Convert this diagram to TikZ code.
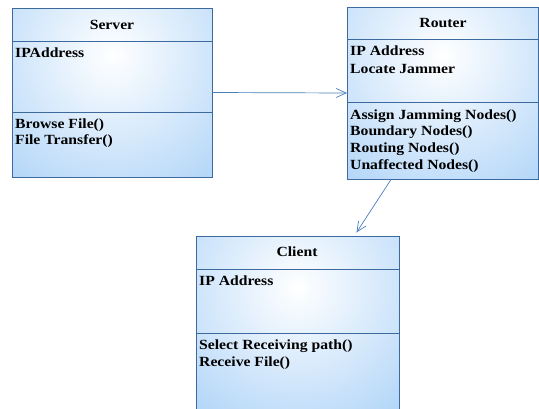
\documentclass[tikz,border=0pt]{standalone}
\usepackage{fontspec}
\setmainfont{Liberation Serif}[BoldFeatures={FakeStretch=1.12}]
\usetikzlibrary{arrows.meta,calc}
\definecolor{boxfill}{HTML}{A6CFF7}
\definecolor{boxline}{HTML}{3C6A9E}
\definecolor{linkline}{HTML}{4A7EBB}
\begin{document}
\begin{tikzpicture}[x=1pt,y=-1pt,
  umlbox/.style={draw=boxline, line width=0.9pt, rectangle, inner sep=0pt,
    path picture={\shade[inner color=white, outer color=boxfill]
      ($(path picture bounding box.north)!0.28!(path picture bounding box.south)$) circle (185pt);}},
  sepline/.style={draw=boxline, line width=0.9pt},
  title/.style={font=\fontsize{14}{16}\selectfont\bfseries, inner sep=0pt},
  item/.style={font=\fontsize{14}{16}\selectfont\bfseries, inner sep=0pt, anchor=west},
  link/.style={draw=linkline, line width=0.7pt, -{Straight Barb[length=10pt,width=9pt,line width=0.7pt]}}
]
\useasboundingbox (0,0) rectangle (539,408);
\clip (0,0) rectangle (539,408);

% Server
\node[umlbox, minimum width=200pt, minimum height=169pt] (server) at (112,92.5) {};
\draw[sepline] ($(server.north west)+(0,34)$) -- ($(server.north east)+(0,34)$);
\draw[sepline] ($(server.north west)+(0,105)$) -- ($(server.north east)+(0,105)$);
\node[title] (stitle) at (112,25) {Server};
\node[item] (s1) at (15,53) {IPAddress};
\node[item] (s2) at (15,125) {Browse File()};
\node[item] (s3) at (15,141) {File Transfer()};

% Router
\node[umlbox, minimum width=191pt, minimum height=172pt] (router) at (443,93) {};
\draw[sepline] ($(router.north west)+(0,33)$) -- ($(router.north east)+(0,33)$);
\draw[sepline] ($(router.north west)+(0,96)$) -- ($(router.north east)+(0,96)$);
\node[title] (rtitle) at (443,23) {Router};
\node[item] (r1) at (350,51) {IP Address};
\node[item] (r2) at (350,69) {Locate Jammer};
\node[item] (r3) at (350,116) {Assign Jamming Nodes()};
\node[item] (r4) at (350,132) {Boundary Nodes()};
\node[item] (r5) at (350,149) {Routing Nodes()};
\node[item] (r6) at (350,166) {Unaffected Nodes()};

% Client
\node[umlbox, minimum width=203pt, minimum height=184pt] (client) at (297.5,328) {};
\draw[sepline] ($(client.north west)+(0,34)$) -- ($(client.north east)+(0,34)$);
\draw[sepline] ($(client.north west)+(0,98)$) -- ($(client.north east)+(0,98)$);
\node[title] (ctitle) at (297,252) {Client};
\node[item] (c1) at (199,281) {IP Address};
\node[item] (c2) at (199,346) {Select Receiving path()};
\node[item] (c3) at (199,363) {Receive File()};

% Connectors
\coordinate (rfrom) at ($(router.south west)+(44,0)$);
\coordinate (cto) at ($(client.north east)+(-43,-3)$);
\draw[link] (server.east) -- (router.west);
\draw[link] (rfrom) -- (cto);
\end{tikzpicture}
\end{document}
